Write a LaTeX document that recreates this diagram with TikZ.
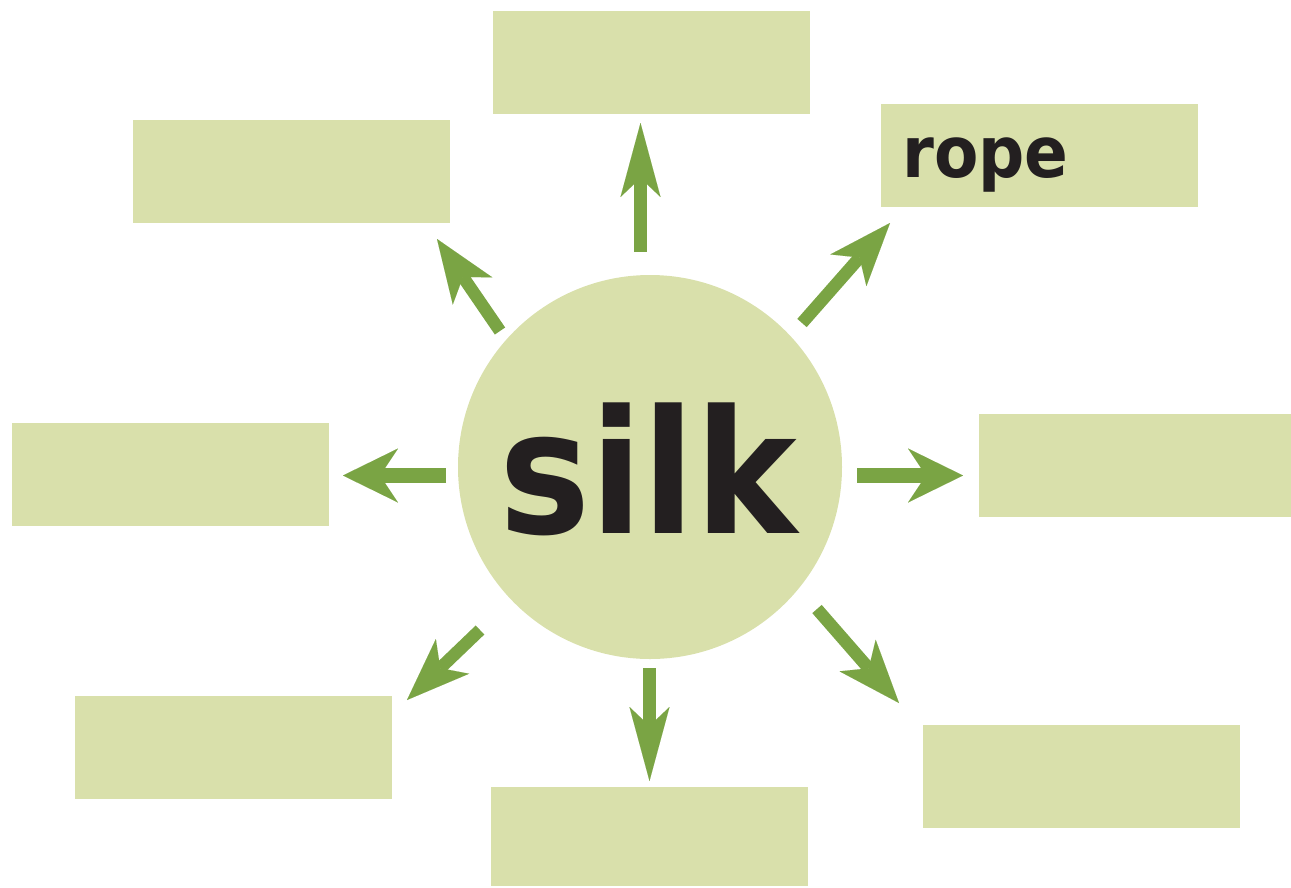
\documentclass[tikz,border=0pt]{standalone}
\usepackage{fontspec}
\setmainfont{DejaVu Sans}
\usetikzlibrary{arrows.meta}
\definecolor{boxfill}{HTML}{D9E0AB}
\definecolor{arrowgreen}{HTML}{7AA444}
\definecolor{txt}{HTML}{231F20}
\tikzset{
  blank/.style={fill=boxfill, draw=none, inner sep=0pt, minimum width=317pt, minimum height=103pt, anchor=north west},
  arrH/.style={draw=arrowgreen, line width=15pt,
    -{Stealth[length=55pt, width=54pt, inset=18pt, line width=0.01pt, fill=arrowgreen]}},
  arrV/.style={draw=arrowgreen, line width=13pt,
    -{Stealth[length=74pt, width=40pt, inset=19pt, line width=0.01pt, fill=arrowgreen]}},
  arrD/.style={draw=arrowgreen, line width=12.5pt,
    -{Stealth[length=63pt, width=48pt, inset=17pt, line width=0.01pt, fill=arrowgreen]}}
}
\begin{document}
\begin{tikzpicture}[x=1pt,y=-1pt]
\useasboundingbox (0,0) rectangle (1291,887);
% boxes
\node[blank] (top) at (493,11) {};
\node[blank] (topleft) at (133,120) {};
\node[blank] (topright) at (881,104) {};
\node[blank] (left) at (12,423) {};
\node[blank, minimum width=312pt] (right) at (979,414) {};
\node[blank] (botleft) at (75,696) {};
\node[blank, minimum height=99pt] (bot) at (491,787) {};
\node[blank] (botright) at (923,725) {};
% circle
\node[circle, fill=boxfill, draw=none, minimum size=384pt, inner sep=0pt] (hub) at (650,467) {};
% texts
\node[anchor=base west, inner sep=0pt, text=txt] (silk) at (499,533)
  {\scalebox{0.89}[1]{\fontsize{172}{172}\selectfont\bfseries silk}};
\node[anchor=base west, inner sep=0pt, text=txt] (rope) at (902,177)
  {\scalebox{0.91}[1]{\fontsize{71}{71}\selectfont\bfseries rope}};
% arrow end points
\coordinate (s1) at (640.5,252); \coordinate (t1) at (640.5,123);
\coordinate (s2) at (500,331); \coordinate (t2) at (437,239);
\coordinate (s3) at (802,323); \coordinate (t3) at (890,223);
\coordinate (s4) at (446,475.5); \coordinate (t4) at (343,475.5);
\coordinate (s5) at (857,475.5); \coordinate (t5) at (963,475.5);
\coordinate (s6) at (480,630); \coordinate (t6) at (407,700);
\coordinate (s7) at (649.5,668); \coordinate (t7) at (649.5,781);
\coordinate (s8) at (817,609); \coordinate (t8) at (899,703);
\draw[arrV] (s1) -- (t1);
\draw[arrV] (s7) -- (t7);
\draw[arrH] (s4) -- (t4);
\draw[arrH] (s5) -- (t5);
\foreach \i in {2,3,6,8} \draw[arrD] (s\i) -- (t\i);
\end{tikzpicture}
\end{document}
